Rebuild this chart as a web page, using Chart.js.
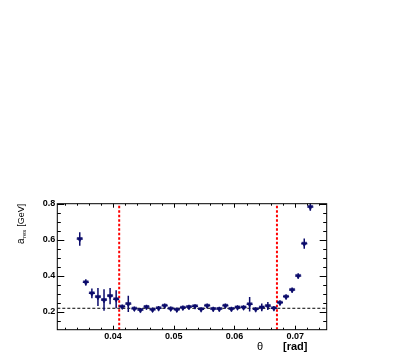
<!DOCTYPE html>
<html>
<head>
<meta charset="utf-8">
<script src="https://cdn.jsdelivr.net/npm/chart.js@4.4.1/dist/chart.umd.min.js"></script>
<style>
  html, body { margin: 0; padding: 0; background: #fff; }
  #wrap { width: 415px; height: 357px; }
</style>
</head>
<body>
<div id="wrap"><canvas id="chart"></canvas></div>
<script>
// ===============================
// Data
// ===============================

// bin centres in theta [rad]
const theta = [
  0.0345, 0.0355, 0.0365, 0.0375, 0.0385, 0.0395, 0.0405, 0.0415, 0.0425, 0.0435,
  0.0445, 0.0455, 0.0465, 0.0475, 0.0485, 0.0495, 0.0505, 0.0515, 0.0525, 0.0535,
  0.0545, 0.0555, 0.0565, 0.0575, 0.0585, 0.0595, 0.0605, 0.0615, 0.0625, 0.0635,
  0.0645, 0.0655, 0.0665, 0.0675, 0.0685, 0.0695, 0.0705, 0.0715, 0.0725
];

// a_res [GeV] per bin
const aRes = [
  0.604, 0.363, 0.302, 0.282, 0.265, 0.287, 0.269, 0.228, 0.243, 0.217,
  0.209, 0.226, 0.211, 0.219, 0.233, 0.217, 0.211, 0.222, 0.226, 0.230,
  0.213, 0.233, 0.215, 0.215, 0.233, 0.215, 0.224, 0.224, 0.241, 0.213,
  0.224, 0.232, 0.219, 0.250, 0.283, 0.321, 0.399, 0.578, 0.781
];

// vertical error per bin
const aErr = [
  0.037, 0.017, 0.027, 0.050, 0.060, 0.045, 0.050, 0.012, 0.045, 0.012,
  0.012, 0.012, 0.012, 0.012, 0.012, 0.012, 0.012, 0.012, 0.012, 0.012,
  0.012, 0.012, 0.012, 0.012, 0.012, 0.012, 0.012, 0.012, 0.040, 0.012,
  0.022, 0.022, 0.012, 0.014, 0.014, 0.014, 0.014, 0.028, 0.020
];

const halfBin = 0.0005;          // horizontal error = half bin width
const cutLow = 0.041;            // red dashed lines
const cutHigh = 0.067;
const plateau = 0.219;           // black dashed line

const xRange = [0.0308, 0.0752];
const yRange = [0.1, 0.8];
const xTicks = [0.04, 0.05, 0.06, 0.07];
const yTicks = [0.2, 0.4, 0.6, 0.8];
const xMinorStep = 0.002;
const yMinorStep = 0.05;

const NAVY = '#0b0b6b';
const FONT = '"Liberation Sans", Arial, sans-serif';

// ===============================
// Plugins
// ===============================

// Error bars drawn just before the markers
const errorBars = {
  id: 'errorBars',
  beforeDatasetDraw(chart, args) {
    if (args.index !== 0) return;
    const { ctx, scales: { x, y } } = chart;
    ctx.save();
    ctx.strokeStyle = NAVY;
    ctx.lineWidth = 1.5;
    theta.forEach((t, i) => {
      const px = x.getPixelForValue(t);
      const py = y.getPixelForValue(aRes[i]);
      ctx.beginPath();
      ctx.moveTo(px, y.getPixelForValue(aRes[i] - aErr[i]));
      ctx.lineTo(px, y.getPixelForValue(aRes[i] + aErr[i]));
      ctx.moveTo(x.getPixelForValue(t - halfBin), py);
      ctx.lineTo(x.getPixelForValue(t + halfBin), py);
      ctx.stroke();
    });
    ctx.restore();
  }
};

// ROOT-like frame with inward ticks on all four sides, plus axis titles
const rootFrame = {
  id: 'rootFrame',
  afterDraw(chart) {
    const { ctx, chartArea: a, scales: { x, y } } = chart;
    ctx.save();
    ctx.strokeStyle = '#000';
    ctx.lineWidth = 1;
    ctx.strokeRect(a.left, a.top, a.right - a.left, a.bottom - a.top);

    ctx.beginPath();
    // x ticks (bottom and top)
    for (let v = 0.032; v < xRange[1]; v += xMinorStep) {
      const major = xTicks.some(t => Math.abs(t - v) < 1e-6);
      const len = major ? 4 : 2;
      const px = Math.round(x.getPixelForValue(v)) + 0.5;
      ctx.moveTo(px, a.bottom); ctx.lineTo(px, a.bottom - len);
      ctx.moveTo(px, a.top); ctx.lineTo(px, a.top + len);
    }
    // y ticks (left and right)
    for (let v = 0.15; v <= yRange[1] + 1e-6; v += yMinorStep) {
      const major = yTicks.some(t => Math.abs(t - v) < 1e-6);
      const len = major ? 7 : 3.5;
      const py = Math.round(y.getPixelForValue(v)) + 0.5;
      ctx.moveTo(a.left, py); ctx.lineTo(a.left + len, py);
      ctx.moveTo(a.right, py); ctx.lineTo(a.right - len, py);
    }
    ctx.stroke();

    // x title
    ctx.fillStyle = '#000';
    ctx.textBaseline = 'alphabetic';
    ctx.font = '11px ' + FONT;
    ctx.textAlign = 'center';
    ctx.fillText('θ', 260, 350);
    ctx.font = 'bold 11px ' + FONT;
    ctx.textAlign = 'left';
    ctx.fillText('[rad]', 283, 350);

    // y title, rotated, right-aligned to the top of the frame
    ctx.translate(24, a.top);
    ctx.rotate(-Math.PI / 2);
    ctx.textAlign = 'right';
    ctx.font = '9px ' + FONT;
    const unit = '[GeV]';
    ctx.fillText(unit, 0, 0);
    let pos = -ctx.measureText(unit).width - 3;
    ctx.font = '6px ' + FONT;
    ctx.fillText('res', pos, 2);
    pos -= ctx.measureText('res').width + 0.5;
    ctx.font = '10px ' + FONT;
    ctx.fillText('a', pos, 0);
    ctx.restore();
  }
};

// ===============================
// Chart
// ===============================

const points = theta.map((t, i) => ({ x: t, y: aRes[i] }));

new Chart(document.getElementById('chart'), {
  type: 'scatter',
  data: {
    datasets: [
      {
        data: points,
        pointStyle: 'triangle',
        rotation: 180,
        pointRadius: 3,
        backgroundColor: NAVY,
        borderColor: NAVY,
        borderWidth: 0.5
      },
      {
        data: [{ x: cutLow, y: yRange[0] }, { x: cutLow, y: yRange[1] }],
        showLine: true, pointRadius: 0,
        borderColor: '#ff0000', borderWidth: 2, borderDash: [2.5, 2]
      },
      {
        data: [{ x: cutHigh, y: yRange[0] }, { x: cutHigh, y: yRange[1] }],
        showLine: true, pointRadius: 0,
        borderColor: '#ff0000', borderWidth: 2, borderDash: [2.5, 2]
      },
      {
        data: [{ x: xRange[0], y: plateau }, { x: xRange[1], y: plateau }],
        showLine: true, pointRadius: 0,
        borderColor: '#000', borderWidth: 1, borderDash: [3, 2]
      }
    ]
  },
  options: {
    responsive: true,
    maintainAspectRatio: false,
    animation: false,
    devicePixelRatio: 1,
    layout: { padding: { top: 203.7, right: 88.3, left: 0, bottom: 0 } },
    plugins: { legend: { display: false }, tooltip: { enabled: false } },
    scales: {
      x: {
        type: 'linear',
        min: xRange[0],
        max: xRange[1],
        afterBuildTicks: s => { s.ticks = xTicks.map(v => ({ value: v })); },
        afterFit: s => { s.height = 27.3; },
        grid: { display: false, drawTicks: false },
        border: { display: false },
        ticks: {
          padding: 1,
          color: '#000',
          maxRotation: 0,
          autoSkip: false,
          font: { family: FONT, size: 9, weight: 'bold' },
          callback: v => v.toFixed(2)
        }
      },
      y: {
        type: 'linear',
        min: yRange[0],
        max: yRange[1],
        afterBuildTicks: s => { s.ticks = yTicks.map(v => ({ value: v })); },
        afterFit: s => { s.width = 57.3; },
        grid: { display: false, drawTicks: false },
        border: { display: false },
        ticks: {
          padding: 2,
          color: '#000',
          autoSkip: false,
          font: { family: FONT, size: 9, weight: 'bold' },
          callback: v => v.toFixed(1)
        }
      }
    }
  },
  plugins: [errorBars, rootFrame]
});
</script>
</body>
</html>
